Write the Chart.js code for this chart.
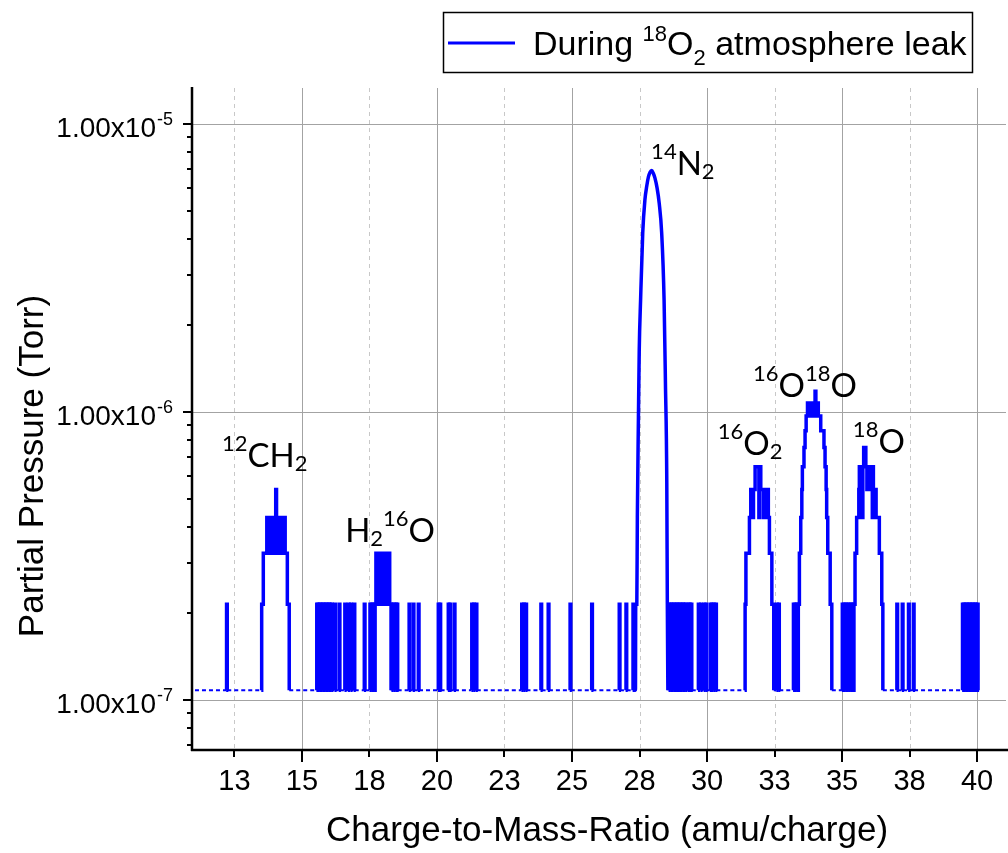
<!DOCTYPE html>
<html><head><meta charset="utf-8">
<script src="https://cdn.jsdelivr.net/npm/chart.js@4/dist/chart.umd.min.js"></script>
<style>html,body{margin:0;padding:0;background:#fff;overflow:hidden}canvas{display:block}</style>
</head><body>
<canvas id="c" width="1008" height="853"></canvas>
<script>
// ---------------- data ----------------
const xTickValues = [12.5, 15, 17.5, 20, 22.5, 25, 27.5, 30, 32.5, 35, 37.5, 40];
const xTickLabels = ['13', '15', '18', '20', '23', '25', '28', '30', '33', '35', '38', '40'];
const yMajorTicks = [1e-7, 1e-6, 1e-5];
const yMajorExponents = ['-7', '-6', '-5'];
const yMinorTicks = [7e-8, 8e-8, 9e-8, 2e-7, 3e-7, 4e-7, 5e-7, 6e-7, 7e-7, 8e-7, 9e-7,
  2e-6, 3e-6, 4e-6, 5e-6, 6e-6, 7e-6, 8e-6, 9e-6];

const traceStartMz = 11.04;
const baselinePressure = 1.08e-7;   // noise floor of the scan
const spikePressure = 2.15e-7;      // single-count spikes

// positions (amu/charge) of the single spikes up to 2.15e-7 Torr
const spikeMz = [12.21,
  15.55, 15.60, 15.66, 15.71, 15.77, 15.82, 15.88, 15.93, 15.99, 16.04, 16.10,
  16.22, 16.38, 16.59, 16.72, 16.81, 16.93, 17.31,
  17.52, 17.58, 17.64,
  18.33, 18.40, 18.47, 18.52,
  18.97, 19.12, 19.31, 20.05, 20.11, 20.42, 20.48, 20.64, 21.29, 21.36, 21.45,
  23.14, 23.21, 23.29, 23.85, 24.12, 24.93, 25.73, 26.75, 27.00, 27.26,
  28.59, 28.65, 28.70, 28.76, 28.82, 28.87, 28.93, 28.98, 29.04, 29.10, 29.15, 29.21, 29.30, 29.35,
  29.41, 29.68, 29.77, 29.89, 29.96, 30.12, 30.18, 30.25, 30.32,
  32.58, 32.65,
  33.20, 33.26, 33.32,
  35.01, 35.07, 35.13, 35.19, 35.26, 35.32, 35.38,
  37.03, 37.23, 37.46, 37.64,
  39.46, 39.51, 39.57, 39.62, 39.68, 39.73, 39.79, 39.84, 39.90, 39.95, 40.01];

// stepped peak profiles (level changes)
const ch2Mz = [13.51, 13.57, 13.70, 13.76, 13.80, 13.86, 13.90, 13.96, 13.99, 14.03, 14.06, 14.10, 14.14, 14.20, 14.24, 14.30, 14.33, 14.38, 14.46, 14.53];
const ch2P  = [2.15e-7, 3.23e-7, 4.3e-7, 3.23e-7, 4.3e-7, 3.23e-7, 4.3e-7, 3.23e-7, 4.3e-7, 5.38e-7, 4.3e-7, 3.23e-7, 4.3e-7, 3.23e-7, 4.3e-7, 3.23e-7, 4.3e-7, 3.23e-7, 2.15e-7, 1.08e-7];

const h2oMz = [17.71, 17.74, 17.80, 17.83, 17.89, 17.92, 17.98, 18.01, 18.07, 18.10, 18.16, 18.19, 18.25, 18.30];
const h2oP  = [2.15e-7, 3.23e-7, 2.15e-7, 3.23e-7, 2.15e-7, 3.23e-7, 2.15e-7, 3.23e-7, 2.15e-7, 3.23e-7, 2.15e-7, 3.23e-7, 2.15e-7, 1.08e-7];

const o2Mz = [31.41, 31.44, 31.57, 31.62, 31.70, 31.72, 31.78, 31.92, 31.94, 31.99, 32.08, 32.10, 32.18, 32.20, 32.27, 32.31, 32.40, 32.47];
const o2P  = [2.15e-7, 3.23e-7, 4.3e-7, 5.38e-7, 4.3e-7, 5.38e-7, 6.45e-7, 4.3e-7, 6.45e-7, 5.38e-7, 4.3e-7, 5.38e-7, 4.3e-7, 5.38e-7, 4.3e-7, 3.23e-7, 2.15e-7, 1.08e-7];

const o16o18Mz = [33.38, 33.42, 33.47, 33.51, 33.53, 33.59, 33.63, 33.67, 33.72, 33.77, 33.80, 33.85, 33.88, 33.93, 33.96, 34.00, 34.03, 34.06, 34.08, 34.12, 34.21, 34.33, 34.37, 34.41, 34.43, 34.47, 34.56, 34.62];
const o16o18P  = [2.15e-7, 3.23e-7, 4.3e-7, 5.38e-7, 6.45e-7, 7.53e-7, 8.6e-7, 9.68e-7, 1.075e-6, 9.68e-7, 1.075e-6, 9.68e-7, 1.075e-6, 9.68e-7, 1.075e-6, 1.18e-6, 1.075e-6, 9.68e-7, 1.075e-6, 9.68e-7, 8.6e-7, 7.53e-7, 6.45e-7, 5.38e-7, 4.3e-7, 3.23e-7, 2.15e-7, 1.08e-7];

const o18Mz = [35.44, 35.48, 35.54, 35.62, 35.64, 35.68, 35.71, 35.75, 35.77, 35.80, 35.88, 35.92, 35.95, 35.99, 36.02, 36.06, 36.09, 36.12, 36.14, 36.16, 36.26, 36.38, 36.47, 36.51];
const o18P  = [2.15e-7, 3.23e-7, 4.3e-7, 5.38e-7, 6.45e-7, 5.38e-7, 6.45e-7, 4.3e-7, 6.45e-7, 7.53e-7, 6.45e-7, 5.38e-7, 6.45e-7, 5.38e-7, 6.45e-7, 5.38e-7, 6.45e-7, 4.3e-7, 6.45e-7, 5.38e-7, 4.3e-7, 3.23e-7, 2.15e-7, 1.08e-7];

// smooth 14N2 peak
const n2Mz = [27.30, 27.35, 27.36, 27.40, 27.42, 27.46, 27.49, 27.54, 27.62, 27.70, 27.77, 27.83, 27.89, 27.95, 28.01, 28.07, 28.15, 28.23, 28.32, 28.41, 28.46, 28.51, 28.53, 28.55];
const n2P  = [1.08e-7, 1.08e-7, 2.15e-7, 2.15e-7, 4.3e-7, 9.6e-7, 1.64e-6, 2.45e-6, 4.2e-6, 5.45e-6, 6.1e-6, 6.55e-6, 6.8e-6, 6.89e-6, 6.75e-6, 6.5e-6, 6.0e-6, 5.3e-6, 4.2e-6, 2.45e-6, 1.26e-6, 5.7e-7, 2.15e-7, 1.08e-7];

// text
const legendRuns = [['During ', ''], ['18', 'sup'], ['O', ''], ['2', 'sub'], [' atmosphere leak', '']];
const peakLabels = [
  {runs: [['12', 'sup'], ['CH', ''], ['2', 'sub']], mz: 12.04, p: 6.44e-7},
  {runs: [['H', ''], ['2', 'sub'], ['16', 'sup'], ['O', '']], mz: 16.60, p: 3.54e-7},
  {runs: [['14', 'sup'], ['N', ''], ['2', 'sub']], mz: 27.93, p: 6.65e-6},
  {runs: [['16', 'sup'], ['O', ''], ['2', 'sub']], mz: 30.40, p: 7.09e-7},
  {runs: [['16', 'sup'], ['O', ''], ['18', 'sup'], ['O', '']], mz: 31.70, p: 1.128e-6},
  {runs: [['18', 'sup'], ['O', '']], mz: 35.40, p: 7.21e-7}
];

// ---------------- build the trace table ----------------
const SPIKE_LEAD = 0.015, SPIKE_TAIL = 0.025;
function buildTrace() {
  const pts = [{x: traceStartMz, y: baselinePressure}];
  spikeMz.forEach(s => {
    pts.push({x: s - SPIKE_LEAD, y: baselinePressure}, {x: s, y: spikePressure}, {x: s + SPIKE_TAIL, y: baselinePressure});
  });
  [[ch2Mz, ch2P], [h2oMz, h2oP], [o2Mz, o2P], [o16o18Mz, o16o18P], [o18Mz, o18P]].forEach(([m, p]) => {
    pts.push({x: m[0] - SPIKE_LEAD, y: baselinePressure});
    m.forEach((v, i) => pts.push({x: v, y: p[i]}));
  });
  pts.push({x: (n2Mz[0] + n2Mz[n2Mz.length - 1]) / 2, y: null});
  pts.sort((a, b) => a.x - b.x);
  return pts;
}
const isBase = pt => pt.parsed.y < 1.5e-7;
const baseSeg = ctx => isBase(ctx.p0) && isBase(ctx.p1);

// ---------------- drawing helpers ----------------
function drawRuns(ctx, x, y, runs, st) {
  let cx = x;
  runs.forEach(([t, s]) => {
    const size = s ? st.small : st.size;
    const dy = s === 'sup' ? -st.rise : (s === 'sub' ? st.drop : 0);
    ctx.font = size + 'px ' + st.family;
    ctx.textAlign = 'left';
    ctx.textBaseline = 'alphabetic';
    ctx.fillText(t, cx, y + dy);
    cx += ctx.measureText(t).width;
  });
  return cx;
}

const decor = {
  id: 'decor',
  beforeDatasetsDraw(chart) {
    const {ctx, chartArea: a, scales: {x, y}} = chart;
    ctx.save();
    ctx.lineWidth = 1;
    xTickValues.forEach(v => {
      const px = Math.round(x.getPixelForValue(v)) + 0.5;
      const major = v % 5 === 0;
      ctx.strokeStyle = major ? '#a3a3a3' : '#c8c8c8';
      ctx.setLineDash(major ? [] : [4, 4]);
      ctx.beginPath(); ctx.moveTo(px, a.top); ctx.lineTo(px, a.bottom); ctx.stroke();
    });
    ctx.setLineDash([]);
    ctx.strokeStyle = '#a3a3a3';
    yMajorTicks.forEach(v => {
      const py = Math.round(y.getPixelForValue(v)) + 0.5;
      ctx.beginPath(); ctx.moveTo(a.left, py); ctx.lineTo(a.right, py); ctx.stroke();
    });
    ctx.restore();
  },
  afterDatasetsDraw(chart) {
    const {ctx, chartArea: a, scales: {x, y}} = chart;
    ctx.save();
    // axis lines
    ctx.strokeStyle = '#000';
    ctx.lineWidth = 2.5;
    ctx.beginPath(); ctx.moveTo(a.left, a.top - 1); ctx.lineTo(a.left, a.bottom + 1); ctx.stroke();
    ctx.beginPath(); ctx.moveTo(a.left - 1, a.bottom); ctx.lineTo(1008, a.bottom); ctx.stroke();
    // ticks
    ctx.lineWidth = 2;
    xTickValues.forEach(v => {
      const px = Math.round(x.getPixelForValue(v));
      const len = v % 5 === 0 ? 12 : 7;
      ctx.beginPath(); ctx.moveTo(px, a.bottom); ctx.lineTo(px, a.bottom + len); ctx.stroke();
    });
    yMajorTicks.forEach(v => {
      const py = Math.round(y.getPixelForValue(v));
      ctx.beginPath(); ctx.moveTo(a.left, py); ctx.lineTo(a.left - 9, py); ctx.stroke();
    });
    yMinorTicks.forEach(v => {
      const py = Math.round(y.getPixelForValue(v));
      ctx.beginPath(); ctx.moveTo(a.left, py); ctx.lineTo(a.left - 5, py); ctx.stroke();
    });
    ctx.fillStyle = '#000';
    // x tick labels
    ctx.font = '29px "Liberation Sans", Arial, sans-serif';
    ctx.textAlign = 'center';
    ctx.textBaseline = 'alphabetic';
    xTickValues.forEach((v, i) => {
      ctx.fillText(xTickLabels[i], x.getPixelForValue(v), a.bottom + 40);
    });
    // y tick labels with superscript exponent
    yMajorTicks.forEach((v, i) => {
      const py = y.getPixelForValue(v);
      ctx.font = '18px "Liberation Sans", Arial, sans-serif';
      const supW = ctx.measureText(yMajorExponents[i]).width;
      ctx.font = '28px "Liberation Sans", Arial, sans-serif';
      const mainW = ctx.measureText('1.00x10').width;
      const x0 = 172 - supW - mainW;
      ctx.textAlign = 'left';
      ctx.fillText('1.00x10', x0, py + 13);
      ctx.font = '18px "Liberation Sans", Arial, sans-serif';
      ctx.fillText(yMajorExponents[i], x0 + mainW + 1, py + 1);
    });
    // axis titles
    ctx.font = '35px "Liberation Sans", Arial, sans-serif';
    ctx.textAlign = 'center';
    ctx.fillText('Charge-to-Mass-Ratio (amu/charge)', 607, 841);
    ctx.save();
    ctx.translate(43, 466);
    ctx.rotate(-Math.PI / 2);
    ctx.fillText('Partial Pressure (Torr)', 0, 0);
    ctx.restore();
    // legend
    ctx.lineWidth = 1.5;
    ctx.strokeStyle = '#000';
    ctx.strokeRect(443.5, 12.5, 529, 60);
    ctx.strokeStyle = '#0000ff';
    ctx.lineWidth = 3;
    ctx.beginPath(); ctx.moveTo(448, 43); ctx.lineTo(515, 43); ctx.stroke();
    drawRuns(ctx, 533, 55, legendRuns, {family: '"Liberation Sans", Arial, sans-serif', size: 34, small: 22, rise: 14, drop: 10});
    // peak labels
    peakLabels.forEach(l => {
      drawRuns(ctx, x.getPixelForValue(l.mz), y.getPixelForValue(l.p), l.runs,
        {family: 'Lato, "Open Sans", sans-serif', size: 33, small: 22, rise: 16, drop: 4});
    });
    ctx.restore();
  }
};

new Chart(document.getElementById('c'), {
  type: 'line',
  data: {
    datasets: [
      {
        label: 'During 18O2 atmosphere leak',
        data: buildTrace(),
        stepped: true,
        borderColor: '#0000ff',
        borderWidth: 3.5,
        borderJoinStyle: 'miter',
        pointRadius: 0,
        spanGaps: false,
        segment: {
          borderWidth: ctx => baseSeg(ctx) ? 2 : 3.5,
          borderDash: ctx => baseSeg(ctx) ? [4, 3] : []
        }
      },
      {
        label: '14N2',
        data: n2Mz.map((m, i) => ({x: m, y: n2P[i]})),
        borderColor: '#0000ff',
        borderWidth: 3.5,
        pointRadius: 0,
        cubicInterpolationMode: 'monotone'
      }
    ]
  },
  options: {
    responsive: false,
    devicePixelRatio: 1,
    animation: false,
    layout: {padding: {top: 88, right: 2, left: 0, bottom: 0}},
    plugins: {legend: {display: false}, tooltip: {enabled: false}},
    scales: {
      x: {
        type: 'linear', min: 10.93, max: 41.07,
        afterBuildTicks: s => { s.ticks = xTickValues.map(v => ({value: v})); },
        afterFit: s => { s.height = 103; },
        ticks: {display: false},
        grid: {display: false},
        border: {display: false}
      },
      y: {
        type: 'logarithmic', min: 6.7e-8, max: 1.334e-5,
        afterBuildTicks: s => { s.ticks = yMajorTicks.concat(yMinorTicks).map(v => ({value: v})); },
        afterFit: s => { s.width = 192; },
        ticks: {display: false},
        grid: {display: false},
        border: {display: false}
      }
    }
  },
  plugins: [decor]
});
</script>
</body></html>
